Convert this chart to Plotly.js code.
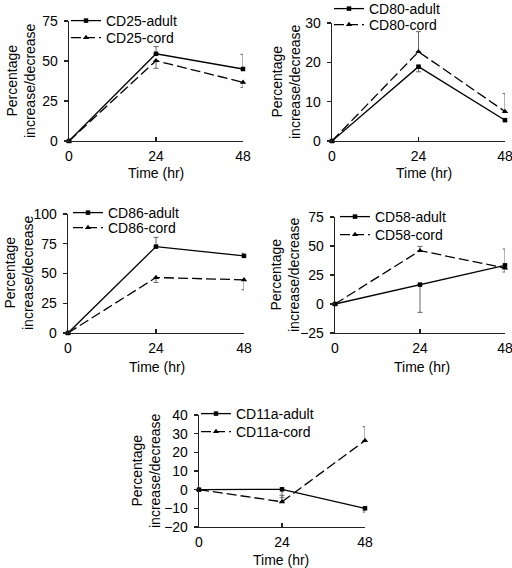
<!DOCTYPE html>
<html>
<head>
<meta charset="utf-8">
<script src="https://cdn.plot.ly/plotly-3.0.1.min.js"></script>
<style>html,body{margin:0;padding:0;background:#fff;}#chart{width:512px;height:568px;}</style>
</head>
<body>
<div id="chart"></div>
<script>
// ---- data ----
const times = [0, 24, 48];
const timeTicks = ['0', '24', '48'];

const cd25Adult = [0, 54.5, 45.0];
const cd25AdultErrUp = [0, 4.5, 9.2];
const cd25AdultErrDown = [0, 0, 0];
const cd25Cord = [0, 50.2, 36.7];
const cd25CordErrUp = [0, 0, 0];
const cd25CordErrDown = [0, 4.8, 3.2];

const cd80Adult = [0, 18.9, 5.3];
const cd80AdultErrUp = [0, 0, 0];
const cd80AdultErrDown = [0, 1.3, 0];
const cd80Cord = [0, 22.7, 7.5];
const cd80CordErrUp = [0, 5.1, 4.6];
const cd80CordErrDown = [0, 0, 0];

const cd86Adult = [0, 72.6, 64.8];
const cd86AdultErrUp = [0, 7.8, 2.2];
const cd86AdultErrDown = [0, 0, 0];
const cd86Cord = [0, 46.6, 44.7];
const cd86CordErrUp = [0, 0, 0];
const cd86CordErrDown = [0, 4.1, 8.4];

const cd58Adult = [0, 16.7, 33.3];
const cd58AdultErrUp = [0, 0, 14.1];
const cd58AdultErrDown = [0, 23.9, 0];
const cd58Cord = [0, 46.0, 31.0];
const cd58CordErrUp = [0, 3.7, 0];
const cd58CordErrDown = [0, 0, 3.4];

const cd11aAdult = [0, 0.2, -10.0];
const cd11aAdultErrUp = [0, 0, 0];
const cd11aAdultErrDown = [0, 4.5, 2.0];
const cd11aCord = [0, -6.5, 26.3];
const cd11aCordErrUp = [0, 3.5, 7.4];
const cd11aCordErrDown = [0, 0, 0];

const panelNames = ['CD25', 'CD80', 'CD86', 'CD58', 'CD11a'];
const yRanges = [[0, 75], [0, 30], [0, 100], [-25, 75], [-20, 40]];
const yDticks = [25, 10, 25, 25, 10];

const adultSeries = [cd25Adult, cd80Adult, cd86Adult, cd58Adult, cd11aAdult];
const adultUp = [cd25AdultErrUp, cd80AdultErrUp, cd86AdultErrUp, cd58AdultErrUp, cd11aAdultErrUp];
const adultDown = [cd25AdultErrDown, cd80AdultErrDown, cd86AdultErrDown, cd58AdultErrDown, cd11aAdultErrDown];
const cordSeries = [cd25Cord, cd80Cord, cd86Cord, cd58Cord, cd11aCord];
const cordUp = [cd25CordErrUp, cd80CordErrUp, cd86CordErrUp, cd58CordErrUp, cd11aCordErrUp];
const cordDown = [cd25CordErrDown, cd80CordErrDown, cd86CordErrDown, cd58CordErrDown, cd11aCordErrDown];

// ---- layout geometry (pixels) ----
const W = 512, H = 568;
const panels = [
  {x0: 69, x1: 243, y0: 21, y1: 141, legX: 73, legY: [21, 38], yt: [21, 81], xt: [156, 173]},
  {x0: 332, x1: 505, y0: 23, y1: 141, legX: 336, legY: [9, 25], yt: [286, 82], xt: [424, 173]},
  {x0: 68, x1: 244, y0: 214, y1: 333, legX: 75, legY: [213, 228], yt: [19, 273], xt: [157, 367]},
  {x0: 335, x1: 505, y0: 217, y1: 333, legX: 342, legY: [217, 235], yt: [285, 275], xt: [422, 367]},
  {x0: 199, x1: 365, y0: 415, y1: 527, legX: 203, legY: [414, 432], yt: [146, 471], xt: [281, 560]}
];
const px = v => v / W;
const py = v => 1 - v / H;

const FONT = 'Liberation Sans, Arial, sans-serif';
const traces = [];
const layout = {
  width: W, height: H,
  margin: {l: 0, r: 0, t: 0, b: 0, autoexpand: false},
  paper_bgcolor: '#fff', plot_bgcolor: 'rgba(0,0,0,0)',
  font: {family: FONT, size: 14, color: '#000'},
  showlegend: true,
  annotations: []
};

function legendFor(key, xPix, yPix) {
  layout[key] = {
    x: px(xPix - 7), y: py(yPix), xanchor: 'left', yanchor: 'middle',
    bgcolor: 'rgba(0,0,0,0)', borderwidth: 0, font: {size: 14, color: '#000'},
    tracegroupgap: 0, itemwidth: 30
  };
}

panels.forEach((p, i) => {
  const n = i + 1;
  const xa = 'x' + (n === 1 ? '' : n), ya = 'y' + (n === 1 ? '' : n);
  const legA = 2 * i + 1 === 1 ? 'legend' : 'legend' + (2 * i + 1);
  const legC = 'legend' + (2 * i + 2);
  const errStyle = {color: '#666', thickness: 1, width: 2.5};
  traces.push({
    x: times, y: adultSeries[i], xaxis: xa, yaxis: ya, legend: legA,
    name: panelNames[i] + '-adult', type: 'scatter', mode: 'lines+markers', cliponaxis: false,
    line: {color: '#000', width: 1.3},
    marker: {symbol: 'square', size: 4.5, color: '#000'},
    error_y: Object.assign({type: 'data', symmetric: false, array: adultUp[i], arrayminus: adultDown[i]}, errStyle)
  });
  traces.push({
    x: times, y: cordSeries[i], xaxis: xa, yaxis: ya, legend: legC,
    name: panelNames[i] + '-cord', type: 'scatter', mode: 'lines+markers', cliponaxis: false,
    line: {color: '#000', width: 1.3, dash: '10px,4px'},
    marker: {symbol: 'triangle-up', size: 5.5, color: '#000'},
    error_y: Object.assign({type: 'data', symmetric: false, array: cordUp[i], arrayminus: cordDown[i]}, errStyle)
  });
  legendFor(legA, p.legX, p.legY[0]);
  legendFor(legC, p.legX, p.legY[1]);
  const xkey = 'xaxis' + (n === 1 ? '' : n), ykey = 'yaxis' + (n === 1 ? '' : n);
  layout[xkey] = {
    domain: [px(p.x0), px(p.x1)], anchor: ya, range: [0, 48],
    tickmode: 'array', tickvals: times, ticktext: timeTicks,
    ticks: 'inside', ticklen: 4, tickwidth: 1.3, tickcolor: '#222',
    showline: true, linecolor: '#222', linewidth: 1.3,
    showgrid: false, zeroline: false, fixedrange: true,
    tickfont: {size: 14, color: '#000'}, ticklabelstandoff: 2,
    ticklabeloverflow: 'allow'
  };
  layout[ykey] = {
    domain: [py(p.y1), py(p.y0)], anchor: xa, range: yRanges[i], dtick: yDticks[i],
    ticks: 'outside', ticklen: 4, tickwidth: 1.3, tickcolor: '#222',
    showline: true, linecolor: '#222', linewidth: 1.3,
    showgrid: false, zeroline: false, fixedrange: true,
    tickfont: {size: 14, color: '#000'}, ticklabelstandoff: 3,
    ticklabeloverflow: 'allow'
  };
  layout.annotations.push({
    text: 'Percentage<br>increase/decrease', textangle: -90, showarrow: false,
    xref: 'paper', yref: 'paper', x: px(p.yt[0]), y: py(p.yt[1]),
    xanchor: 'center', yanchor: 'middle', font: {size: 14, color: '#000'}
  });
  layout.annotations.push({
    text: 'Time (hr)', showarrow: false,
    xref: 'paper', yref: 'paper', x: px(p.xt[0]), y: py(p.xt[1]),
    xanchor: 'center', yanchor: 'middle', font: {size: 14, color: '#000'}
  });
});

Plotly.newPlot('chart', traces, layout, {displayModeBar: false, staticPlot: true});
</script>
</body>
</html>
